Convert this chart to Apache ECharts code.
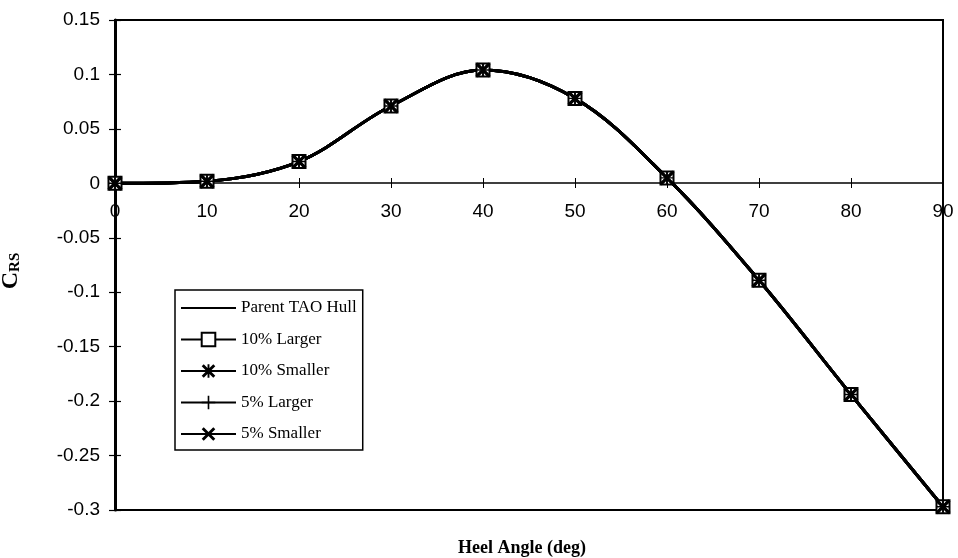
<!DOCTYPE html>
<html>
<head>
<meta charset="utf-8">
<script src="https://cdn.jsdelivr.net/npm/echarts@6/dist/echarts.min.js"></script>
<style>
html,body{margin:0;padding:0;background:#fff;}
#chart{width:958px;height:558px;}
</style>
</head>
<body>
<div id="chart"></div>
<script>
// Heel angle categories (deg)
const heelAngles = [0, 10, 20, 30, 40, 50, 60, 70, 80, 90];
// C_RS values per hull variant (curves coincide in the figure)
const parentTAOHull = [0, 0.002, 0.02, 0.071, 0.104, 0.078, 0.005, -0.089, -0.194, -0.297];
const larger10      = [0, 0.002, 0.02, 0.071, 0.104, 0.078, 0.005, -0.089, -0.194, -0.297];
const smaller10     = [0, 0.002, 0.02, 0.071, 0.104, 0.078, 0.005, -0.089, -0.194, -0.297];
const larger5       = [0, 0.002, 0.02, 0.071, 0.104, 0.078, 0.005, -0.089, -0.194, -0.297];
const smaller5      = [0, 0.002, 0.02, 0.071, 0.104, 0.078, 0.005, -0.089, -0.194, -0.297];
const seriesNames = ['Parent TAO Hull', '10% Larger', '10% Smaller', '5% Larger', '5% Smaller'];
const yMin = -0.3, yMax = 0.15, yStep = 0.05;
const xMin = 0, xMax = 90, xStep = 10;

const pts = arr => heelAngles.map((x, i) => [x, arr[i]]);

const SANS = 'Liberation Sans';
const SERIF = 'Liberation Serif';
const INK = '#000';

const xPath = 'path://M0,1.5 L1.5,0 L5,3.5 L8.5,0 L10,1.5 L6.5,5 L10,8.5 L8.5,10 L5,6.5 L1.5,10 L0,8.5 L3.5,5 Z';
const plusPath = 'path://M4.4,0 H5.6 V4.4 H10 V5.6 H5.6 V10 H4.4 V5.6 H0 V4.4 H4.4 Z';
const starPath = 'path://M0,1.5 L1.5,0 L5,3.5 L8.5,0 L10,1.5 L6.5,5 L10,8.5 L8.5,10 L5,6.5 L1.5,10 L0,8.5 L3.5,5 Z M4.3,0 H5.7 V10 H4.3 Z';

function lineSeries(name, data, symbol, itemStyle, size) {
  return {
    name: name,
    type: 'line',
    xAxisIndex: 0,
    yAxisIndex: 0,
    data: pts(data),
    smooth: 0.35,
    symbol: symbol,
    symbolSize: size,
    showSymbol: symbol !== 'none',
    lineStyle: { color: INK, width: 3 },
    itemStyle: itemStyle,
    emphasis: { disabled: true },
    z: 3
  };
}

// plot box: left 115, right 943, top 20, bottom 510; zero line sits at y = 183
const mainBox = { left: 115, right: 15, top: 20, bottom: 48, outerBoundsMode: 'none', containLabel: false };
const upperBox = { left: 115, right: 15, top: 20, bottom: 375, outerBoundsMode: 'none', containLabel: false };

const hiddenX = (g) => ({ gridIndex: g, type: 'value', min: xMin, max: xMax, show: false });
const hiddenY = (g) => ({ gridIndex: g, type: 'value', min: yMin, max: yMax, show: false });

const chart = echarts.init(document.getElementById('chart'), null, { renderer: 'canvas' });
chart.setOption({
  animation: false,
  backgroundColor: '#fff',
  grid: [
    Object.assign({ show: true, borderColor: INK, borderWidth: 2, backgroundColor: 'transparent' }, mainBox),
    Object.assign({ show: false }, mainBox),
    Object.assign({ show: false }, upperBox),
    Object.assign({ show: false }, upperBox)
  ],
  legend: {
    orient: 'vertical',
    left: 175, top: 290,
    padding: [8, 6, 6, 5],
    borderColor: INK, borderWidth: 1.5,
    backgroundColor: '#fff',
    itemWidth: 55, itemHeight: 17, itemGap: 11.5,
    lineStyle: { width: 2 },
    textStyle: { fontFamily: SERIF, fontSize: 17, color: INK, lineHeight: 20 },
    data: [
      { name: seriesNames[0], itemStyle: { color: 'transparent', borderColor: 'transparent', opacity: 0 } },
      seriesNames[1], seriesNames[2], seriesNames[3], seriesNames[4]
    ]
  },
  xAxis: [
    hiddenX(0),
    hiddenX(1),
    {
      gridIndex: 2, position: 'bottom',
      type: 'value', min: xMin, max: xMax, interval: xStep,
      axisLine: { show: true, onZero: false, lineStyle: { color: INK, width: 1.5 } },
      axisTick: { show: true, length: 5, lineStyle: { color: INK, width: 1 } },
      axisLabel: { margin: 19, fontFamily: SANS, fontSize: 19, color: INK },
      splitLine: { show: false }
    }, {
      gridIndex: 3, position: 'bottom',
      type: 'value', min: xMin, max: xMax, interval: xStep,
      axisLine: { show: false, onZero: false },
      axisTick: { show: true, inside: true, length: 5, lineStyle: { color: INK, width: 1 } },
      axisLabel: { show: false },
      splitLine: { show: false }
    }
  ],
  yAxis: [{
    gridIndex: 0,
    type: 'value', min: yMin, max: yMax, interval: yStep, position: 'left',
    axisLine: { show: true, onZero: false, lineStyle: { color: INK, width: 3 } },
    axisTick: { show: true, length: 6, lineStyle: { color: INK, width: 1.2 } },
    axisLabel: {
      margin: 15, fontFamily: SANS, fontSize: 19, color: INK,
      formatter: v => String(+v.toFixed(2))
    },
    splitLine: { show: false },
    name: '{c|C}{s|RS}',
    nameLocation: 'middle',
    nameRotate: 90,
    nameGap: 92,
    nameTextStyle: {
      padding: [0, 12, 0, 0],
      rich: {
        c: { fontFamily: SERIF, fontWeight: 'bold', fontSize: 24, color: INK, lineHeight: 25, verticalAlign: 'bottom' },
        s: { fontFamily: SERIF, fontWeight: 'bold', fontSize: 15, color: INK, lineHeight: 20, verticalAlign: 'bottom' }
      }
    }
  }, {
    gridIndex: 1,
    type: 'value', min: yMin, max: yMax, interval: yStep, position: 'left',
    axisLine: { show: false, onZero: false },
    axisTick: { show: true, inside: true, length: 6, lineStyle: { color: INK, width: 1.2 } },
    axisLabel: { show: false },
    splitLine: { show: false }
  },
  hiddenY(2),
  hiddenY(3)
  ],
  graphic: [{
    type: 'text',
    left: 458, top: 539,
    style: { text: 'Heel Angle (deg)', font: 'bold 18px "Liberation Serif"', fill: INK }
  }],
  series: [
    lineSeries(seriesNames[0], parentTAOHull, 'none', { color: INK }, 0),
    lineSeries(seriesNames[1], larger10, 'rect', { color: '#fff', borderColor: INK, borderWidth: 2 }, 13),
    lineSeries(seriesNames[2], smaller10, starPath, { color: INK, borderWidth: 0 }, 12),
    lineSeries(seriesNames[3], larger5, plusPath, { color: INK, borderWidth: 0 }, 12),
    lineSeries(seriesNames[4], smaller5, xPath, { color: INK, borderWidth: 0 }, 15)
  ]
});
</script>
</body>
</html>
